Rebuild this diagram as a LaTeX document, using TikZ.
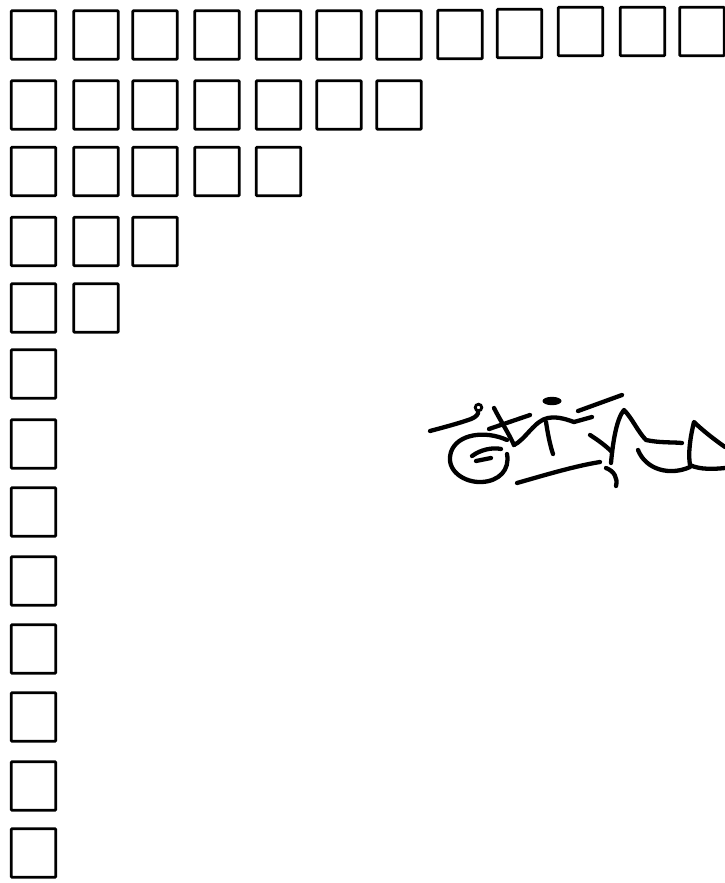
\documentclass[tikz,border=0pt]{standalone}
\begin{document}
\begin{tikzpicture}[x=1pt,y=-1pt,
  cell/.style={draw=black, line width=2.6pt, minimum width=44.5pt, minimum height=48.5pt,
    inner sep=0pt, outer sep=0pt, rounded corners=0.8pt},
  ink/.style={line width=4.3pt, line cap=round, line join=round}]
\useasboundingbox (0,0) rectangle (725,883);
% first row (12 cells, right part slightly higher)
\foreach \xx/\yy [count=\c] in {33.5/35,96/35,155/35,217/35,278.5/35,339/35,399/35,
    460/34.5,519.5/33.5,580.5/31.5,642.5/31.5,702/31.5}
  \node[cell] (c1-\c) at (\xx,\yy) {};
% remaining rows
\foreach \r/\yy/\n in {2/105/7,3/171.5/5,4/241.5/3,5/308/2,6/374/1,7/444/1,8/512/1,
    9/581/1,10/649/1,11/717/1,12/786/1,13/853/1}{
  \foreach \xx [count=\c] in {33.5,96,155,217,278.5,339,399}{
    \ifnum\c>\n\relax\else
      \node[cell] (c\r-\c) at (\xx,\yy) {};
    \fi
  }
}
% handwritten word
\draw[ink] (430,431) .. controls (445,427) and (460,423) .. (471,419)
  .. controls (476,417) and (479,414) .. (478,411);
\draw[line width=2.8pt] (478.5,407.5) circle (3.3);
\draw[ink] (507,440) .. controls (485,430) and (457,434) .. (451,452)
  .. controls (445,471) and (465,483) .. (482,482)
  .. controls (499,481) and (510,470) .. (507,454);
\draw[ink] (472,456) .. controls (480,450) and (492,447) .. (501,449);
\draw[ink] (476,461) -- (491,458);
\draw[ink] (494,408) .. controls (500,420) and (508,432) .. (514,445);
\draw[ink] (489,429) -- (530,415);
\draw[ink] (514,445) .. controls (525,440) and (535,420) .. (548,418)
  .. controls (558,416) and (568,420) .. (574,422) -- (592,417);
\draw[ink] (546,422) .. controls (548,435) and (550,445) .. (553,454);
\fill (552,401) ellipse (9.5 and 4.2);
\draw[ink] (578,411) -- (622,395);
\draw[ink] (517,483) .. controls (545,475) and (575,466) .. (600,462);
\draw[ink] (590,435) .. controls (598,440) and (606,446) .. (612,452);
\draw[ink] (611,463) .. controls (613,440) and (617,418) .. (624,410)
  .. controls (632,418) and (638,432) .. (646,440)
  .. controls (660,443) and (672,442) .. (682,443);
\draw[ink] (638,450) .. controls (646,470) and (670,476) .. (690,467);
\draw[ink] (606,468) .. controls (614,471) and (618,478) .. (616,486);
\draw[ink] (725,447) .. controls (712,438) and (700,428) .. (694,422)
  .. controls (690,438) and (688,454) .. (690,465)
  .. controls (700,470) and (715,469) .. (725,468);
\end{tikzpicture}
\end{document}
